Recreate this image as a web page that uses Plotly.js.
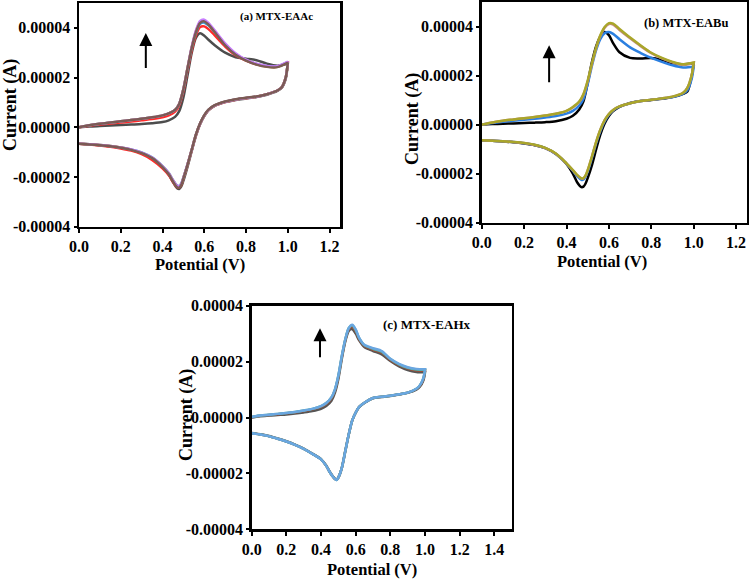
<!DOCTYPE html>
<html>
<head>
<meta charset="utf-8">
<script src="https://cdn.plot.ly/plotly-3.0.1.min.js"></script>
<style>
  html, body { margin: 0; padding: 0; background: #ffffff; }
  #chart { width: 749px; height: 579px; }
</style>
</head>
<body>
<div id="chart"></div>
<script>
// Potential grids (V): forward (anodic) and reverse (cathodic) sweeps
const potFwd = [0,0.05,0.1,0.15,0.2,0.25,0.3,0.35,0.4,0.43,0.46,0.48,0.5,0.52,0.54,0.56,0.58,0.6,0.62,0.65,0.7,0.75,0.8,0.85,0.9,0.95,1.0];
const potRev = [1.0,0.99,0.97,0.95,0.9,0.85,0.8,0.75,0.7,0.65,0.62,0.6,0.58,0.56,0.54,0.52,0.5,0.49,0.48,0.47,0.45,0.43,0.4,0.35,0.3,0.25,0.2,0.15,0.1,0.05,0.0];

// Currents in microamperes (µA)
// (a) MTX-EAAc
const aGrayFwd   = [0.0,0.3,0.5,0.7,0.9,1.1,1.3,1.6,2.1,2.8,4.2,6.5,12.0,21.0,30.0,36.0,37.8,36.8,35.2,33.0,30.0,28.2,27.6,27.0,25.6,24.8,25.5];
const aGrayRev   = [25.5,19.5,15.8,14.6,13.1,12.2,11.6,11.0,10.1,8.6,6.8,4.5,1.2,-3.5,-9.5,-15.8,-21.5,-23.8,-24.8,-24.5,-22.0,-19.0,-16.0,-12.5,-10.4,-9.1,-8.2,-7.6,-7.2,-6.8,-6.6];
const aRedFwd    = [0.0,0.6,1.1,1.5,1.9,2.3,2.8,3.3,4.0,4.8,6.3,8.8,14.5,23.0,31.0,37.0,40.3,40.6,39.5,37.0,32.5,29.0,26.8,25.3,24.5,24.5,26.0];
const aRedRev    = [26.0,20.0,16.0,14.8,13.3,12.3,11.7,11.1,10.2,8.7,6.9,4.7,1.4,-3.2,-9.2,-15.0,-20.6,-23.2,-24.3,-24.1,-22.0,-19.3,-16.5,-13.1,-10.8,-9.4,-8.5,-7.8,-7.3,-6.9,-6.6];
const aBlueFwd   = [0.0,0.8,1.4,1.9,2.4,2.9,3.4,4.0,4.8,5.6,7.0,9.4,15.3,23.8,32.0,38.0,41.6,42.1,41.0,38.3,33.2,29.4,27.0,25.5,24.6,24.5,26.2];
const aBlueRev   = [26.2,20.0,16.0,14.8,13.3,12.3,11.8,11.2,10.3,8.8,7.0,4.8,1.5,-3.0,-9.0,-14.8,-20.2,-22.6,-23.6,-23.4,-21.2,-18.4,-15.6,-12.1,-10.1,-8.9,-8.1,-7.5,-7.1,-6.8,-6.5];
const aGoldFwd   = [0.0,0.8,1.4,1.9,2.4,2.9,3.4,4.0,4.8,5.6,7.0,9.5,15.5,24.0,32.3,38.7,42.4,43.0,41.6,38.6,33.4,29.5,27.0,25.4,24.4,24.3,26.2];
const aGoldRev   = [26.2,20.0,16.0,14.8,13.3,12.3,11.8,11.2,10.3,8.8,7.0,4.8,1.5,-3.0,-9.0,-14.9,-20.4,-22.9,-23.9,-23.7,-21.4,-18.6,-15.8,-12.3,-10.3,-9.0,-8.1,-7.5,-7.1,-6.8,-6.5];
const aPurpleFwd = [0.0,0.8,1.4,1.9,2.4,2.9,3.4,4.0,4.8,5.6,7.0,9.5,15.5,24.0,32.5,39.0,42.8,43.3,42.0,39.0,33.8,29.8,27.2,25.6,24.7,24.6,26.4];
const aPurpleRev = [26.4,20.0,16.0,14.8,13.3,12.3,11.8,11.2,10.3,8.8,7.0,4.8,1.5,-3.0,-9.0,-14.8,-20.3,-22.7,-23.7,-23.5,-21.3,-18.5,-15.7,-12.2,-10.2,-8.9,-8.1,-7.5,-7.1,-6.8,-6.5];
const aBrownFwd  = [0.0,0.8,1.4,1.9,2.4,2.9,3.4,4.0,4.8,5.6,7.0,9.4,15.3,23.8,32.0,38.3,42.0,42.6,41.3,38.3,33.0,29.2,26.8,25.2,24.3,24.2,26.0];
const aBrownRev  = [26.0,20.0,16.0,14.8,13.3,12.4,11.9,11.3,10.4,8.9,7.1,4.9,1.6,-2.9,-9.0,-15.0,-20.6,-23.2,-24.3,-24.1,-21.8,-18.9,-16.0,-12.4,-10.4,-9.1,-8.2,-7.6,-7.2,-6.9,-6.6];

// (b) MTX-EABu
const bBlackFwd  = [0.0,0.2,0.35,0.5,0.65,0.8,1.0,1.4,2.4,3.6,6.2,9.5,17.0,25.5,32.0,36.0,37.8,36.5,33.2,29.5,27.2,27.0,27.2,26.4,25.1,24.6,25.0];
const bBlackRev  = [25.0,19.5,13.5,12.5,11.2,10.5,10.0,9.6,8.8,7.2,5.5,3.5,0.5,-4.0,-10.0,-16.5,-21.8,-24.0,-25.3,-25.5,-23.5,-20.0,-16.0,-12.0,-9.6,-8.4,-7.7,-7.2,-6.9,-6.6,-6.4];
const bBlueFwd   = [0.0,0.7,1.2,1.6,2.0,2.4,2.9,3.5,4.5,5.6,7.8,10.5,16.5,24.0,30.5,35.0,37.3,37.8,37.0,34.8,31.5,29.2,27.2,25.6,24.2,23.3,23.6];
const bBlueRev   = [23.6,18.5,14.0,12.6,11.2,10.6,10.1,9.6,8.7,7.3,5.8,4.0,1.3,-2.6,-7.6,-13.6,-19.2,-21.2,-22.4,-22.5,-21.0,-18.8,-16.0,-12.0,-9.6,-8.3,-7.6,-7.1,-6.8,-6.6,-6.4];
const bPinkFwd   = [0.0,0.9,1.6,2.1,2.6,3.1,3.7,4.4,5.6,7.0,9.2,12.2,17.6,24.6,31.2,36.2,39.5,41.0,40.8,38.6,35.2,32.0,29.1,27.0,25.4,24.4,25.2];
const bPinkRev   = [25.2,20.0,15.0,13.0,11.4,10.7,10.1,9.6,8.7,7.4,6.0,4.3,1.8,-2.0,-7.0,-13.0,-18.6,-20.8,-21.9,-22.0,-20.6,-18.6,-15.9,-11.9,-9.6,-8.3,-7.5,-7.1,-6.8,-6.6,-6.4];
const bOliveFwd  = [0.0,0.9,1.6,2.1,2.6,3.1,3.7,4.4,5.6,7.2,9.4,12.5,18.0,25.0,31.5,36.5,39.8,41.4,41.2,39.0,35.5,32.3,29.3,27.2,25.6,24.6,25.3];
const bOliveRev  = [25.3,20.0,15.0,13.0,11.4,10.7,10.1,9.6,8.7,7.4,6.0,4.3,1.8,-2.0,-7.0,-13.0,-18.6,-20.7,-21.8,-21.9,-20.5,-18.5,-15.8,-11.8,-9.5,-8.2,-7.5,-7.1,-6.8,-6.6,-6.4];

// (c) MTX-EAHx
const cGrayFwd   = [0.0,0.4,0.7,0.9,1.1,1.4,1.8,2.3,3.1,4.1,6.0,8.8,13.8,21.0,27.2,31.0,31.6,30.0,27.6,25.2,23.8,22.6,20.2,18.3,17.0,16.3,16.2];
const cGrayRev   = [16.2,13.2,11.0,10.0,8.8,8.2,7.7,7.3,6.9,5.2,3.7,1.7,-1.1,-6.1,-12.0,-18.0,-21.4,-22.2,-21.9,-21.2,-19.4,-17.2,-14.9,-12.9,-11.1,-9.7,-8.5,-7.5,-6.6,-6.0,-5.5];
const cBrownFwd  = [0.1,0.6,0.9,1.2,1.5,1.8,2.3,2.9,3.8,4.8,6.8,9.6,14.6,21.6,27.7,31.6,32.5,30.8,28.0,25.6,24.2,23.2,20.6,18.7,17.5,16.8,16.8];
const cBrownRev  = [16.8,13.6,11.3,10.2,8.9,8.3,7.8,7.4,7.0,5.3,3.8,1.8,-1.0,-6.0,-12.0,-18.0,-21.5,-22.3,-22.0,-21.3,-19.5,-17.3,-15.0,-13.0,-11.2,-9.8,-8.6,-7.6,-6.7,-6.1,-5.6];
const cTealFwd   = [0.2,0.7,1.0,1.3,1.6,2.0,2.5,3.1,4.1,5.2,7.2,10.0,15.0,22.0,28.0,32.0,33.0,31.3,28.4,25.9,24.6,23.6,20.9,19.0,17.8,17.2,17.1];
const cTealRev   = [17.1,14.0,11.5,10.3,8.9,8.3,7.8,7.4,7.0,5.3,3.8,1.8,-1.0,-6.0,-12.0,-18.0,-21.5,-22.4,-22.0,-21.3,-19.5,-17.3,-15.0,-13.0,-11.2,-9.8,-8.6,-7.6,-6.7,-6.1,-5.6];
const cBlueFwd   = [0.2,0.7,1.0,1.3,1.6,2.0,2.5,3.1,4.1,5.2,7.2,10.0,15.0,22.0,28.0,32.0,33.2,31.5,28.5,26.0,24.8,23.8,21.0,19.2,18.0,17.4,17.3];
const cBlueRev   = [17.3,14.0,11.5,10.3,8.9,8.3,7.8,7.4,7.0,5.3,3.8,1.8,-1.0,-6.0,-12.0,-18.0,-21.5,-22.4,-22.0,-21.3,-19.5,-17.3,-15.0,-13.0,-11.2,-9.8,-8.6,-7.6,-6.7,-6.1,-5.6];

// Tick labels and texts
const yTickVals = [-0.00004,-0.00002,0,0.00002,0.00004];
const yTickText = ['-0.00004','-0.00002','0.00000','0.00002','0.00004'];
const panelLabels = ['(a) MTX-EAAc','(b) MTX-EABu','(c) MTX-EAHx'];
const xTitle = 'Potential (V)';
const yTitle = 'Current (A)';

const uA = 1e-6;
function cycle(fwd, rev, color, xa, ya) {
  return {
    x: potFwd.concat(potRev),
    y: fwd.concat(rev).map(v => v * uA),
    type: 'scatter', mode: 'lines',
    line: { color: color, width: 2.5, shape: 'spline', smoothing: 0.8 },
    xaxis: xa, yaxis: ya, showlegend: false, hoverinfo: 'skip'
  };
}

const traces = [
  cycle(aGrayFwd, aGrayRev, '#4d4d4d', 'x', 'y'),
  cycle(aRedFwd, aRedRev, '#ff2a2a', 'x', 'y'),
  cycle(aBlueFwd, aBlueRev, '#3d9bd6', 'x', 'y'),
  cycle(aGoldFwd, aGoldRev, '#d39b00', 'x', 'y'),
  cycle(aPurpleFwd, aPurpleRev, '#c77dff', 'x', 'y'),
  cycle(aBrownFwd, aBrownRev, '#7b5b55', 'x', 'y'),

  cycle(bBlackFwd, bBlackRev, '#000000', 'x2', 'y2'),
  cycle(bBlueFwd, bBlueRev, '#2b7fe0', 'x2', 'y2'),
  cycle(bPinkFwd, bPinkRev, '#c98a8a', 'x2', 'y2'),
  cycle(bOliveFwd, bOliveRev, '#a9a62a', 'x2', 'y2'),

  cycle(cGrayFwd, cGrayRev, '#555555', 'x3', 'y3'),
  cycle(cBrownFwd, cBrownRev, '#9c4f3a', 'x3', 'y3'),
  cycle(cTealFwd, cTealRev, '#4fb3a8', 'x3', 'y3'),
  cycle(cBlueFwd, cBlueRev, '#6aa6e0', 'x3', 'y3')
];

const FONT = '"Liberation Serif", "Times New Roman", serif';
const tickFont = { family: FONT, size: 16, color: '#000', weight: 'bold' };

function xAxis(domain, range, anchor) {
  return {
    domain: domain, range: range, anchor: anchor,
    tickmode: 'linear', tick0: 0, dtick: 0.2, tickformat: '.1f',
    showline: true, linecolor: '#000', linewidth: 2.5, mirror: true,
    ticks: 'outside', ticklen: 4, tickwidth: 2, tickcolor: '#000',
    showgrid: false, zeroline: false, tickfont: tickFont, fixedrange: true
  };
}
function yAxis(domain, range, anchor) {
  return {
    domain: domain, range: range, anchor: anchor,
    tickmode: 'array', tickvals: yTickVals, ticktext: yTickText,
    showline: true, linecolor: '#000', linewidth: 2.5, mirror: true,
    ticks: 'outside', ticklen: 3, tickwidth: 2, tickcolor: '#000',
    showgrid: false, zeroline: false, tickfont: tickFont, fixedrange: true
  };
}

const W = 749, H = 579;
function px(x) { return x / W; }
function py(y) { return 1 - y / H; }

const titleFontX = { family: FONT, size: 16.5, color: '#000', weight: 'bold' };
const titleFontY = { family: FONT, size: 18, color: '#000', weight: 'bold' };

function arrow(xr, yr, x, yTip, yTail) {
  return { xref: xr, yref: yr, axref: xr, ayref: yr, x: x, y: yTip, ax: x, ay: yTail,
           text: '', showarrow: true, arrowhead: 2, arrowsize: 1.3, arrowwidth: 2, arrowcolor: '#000' };
}
function label(xr, yr, x, y, text, size) {
  return { xref: xr, yref: yr, x: x, y: y, text: text, showarrow: false,
           xanchor: 'center', yanchor: 'middle',
           font: { family: FONT, size: size, color: '#000', weight: 'bold' } };
}
function axTitle(xPix, yPix, text, vertical) {
  return { xref: 'paper', yref: 'paper', x: px(xPix), y: py(yPix), text: text, showarrow: false,
           xanchor: 'center', yanchor: 'middle', textangle: vertical ? -90 : 0,
           font: vertical ? titleFontY : titleFontX };
}

const annotations = [
  label('x', 'y', 0.944, 44.7 * uA, panelLabels[0], 11),
  label('x2', 'y2', 0.965, 41.3 * uA, panelLabels[1], 12.5),
  label('x3', 'y3', 1.012, 33.4 * uA, panelLabels[2], 13),
  arrow('x', 'y', 0.32, 37.9 * uA, 23.2 * uA),
  arrow('x2', 'y2', 0.318, 32.4 * uA, 16.7 * uA),
  arrow('x3', 'y3', 0.394, 31.9 * uA, 21.0 * uA),
  axTitle(200, 264, xTitle, false),
  axTitle(602, 261, xTitle, false),
  axTitle(372, 569, xTitle, false),
  axTitle(11, 105, yTitle, true),
  axTitle(412, 119, yTitle, true),
  axTitle(186, 415, yTitle, true)
];

const layout = {
  width: W, height: H,
  margin: { l: 0, r: 0, t: 0, b: 0 },
  paper_bgcolor: '#ffffff', plot_bgcolor: '#ffffff',
  showlegend: false,
  xaxis:  xAxis([px(79), px(340)], [0, 1.25], 'y'),
  yaxis:  yAxis([py(226.7), py(3)], [-0.00004, 0.00005], 'x'),
  xaxis2: xAxis([px(481.7), px(746.7)], [0, 1.25], 'y2'),
  yaxis2: yAxis([py(222.7), py(2)], [-0.00004, 0.00005], 'x2'),
  xaxis3: xAxis([px(251.7), px(511.7)], [0, 1.5], 'y3'),
  yaxis3: yAxis([py(529.3), py(305.7)], [-0.00004, 0.00004], 'x3'),
  annotations: annotations
};

Plotly.newPlot('chart', traces, layout, { displayModeBar: false, staticPlot: true });
</script>
</body>
</html>
